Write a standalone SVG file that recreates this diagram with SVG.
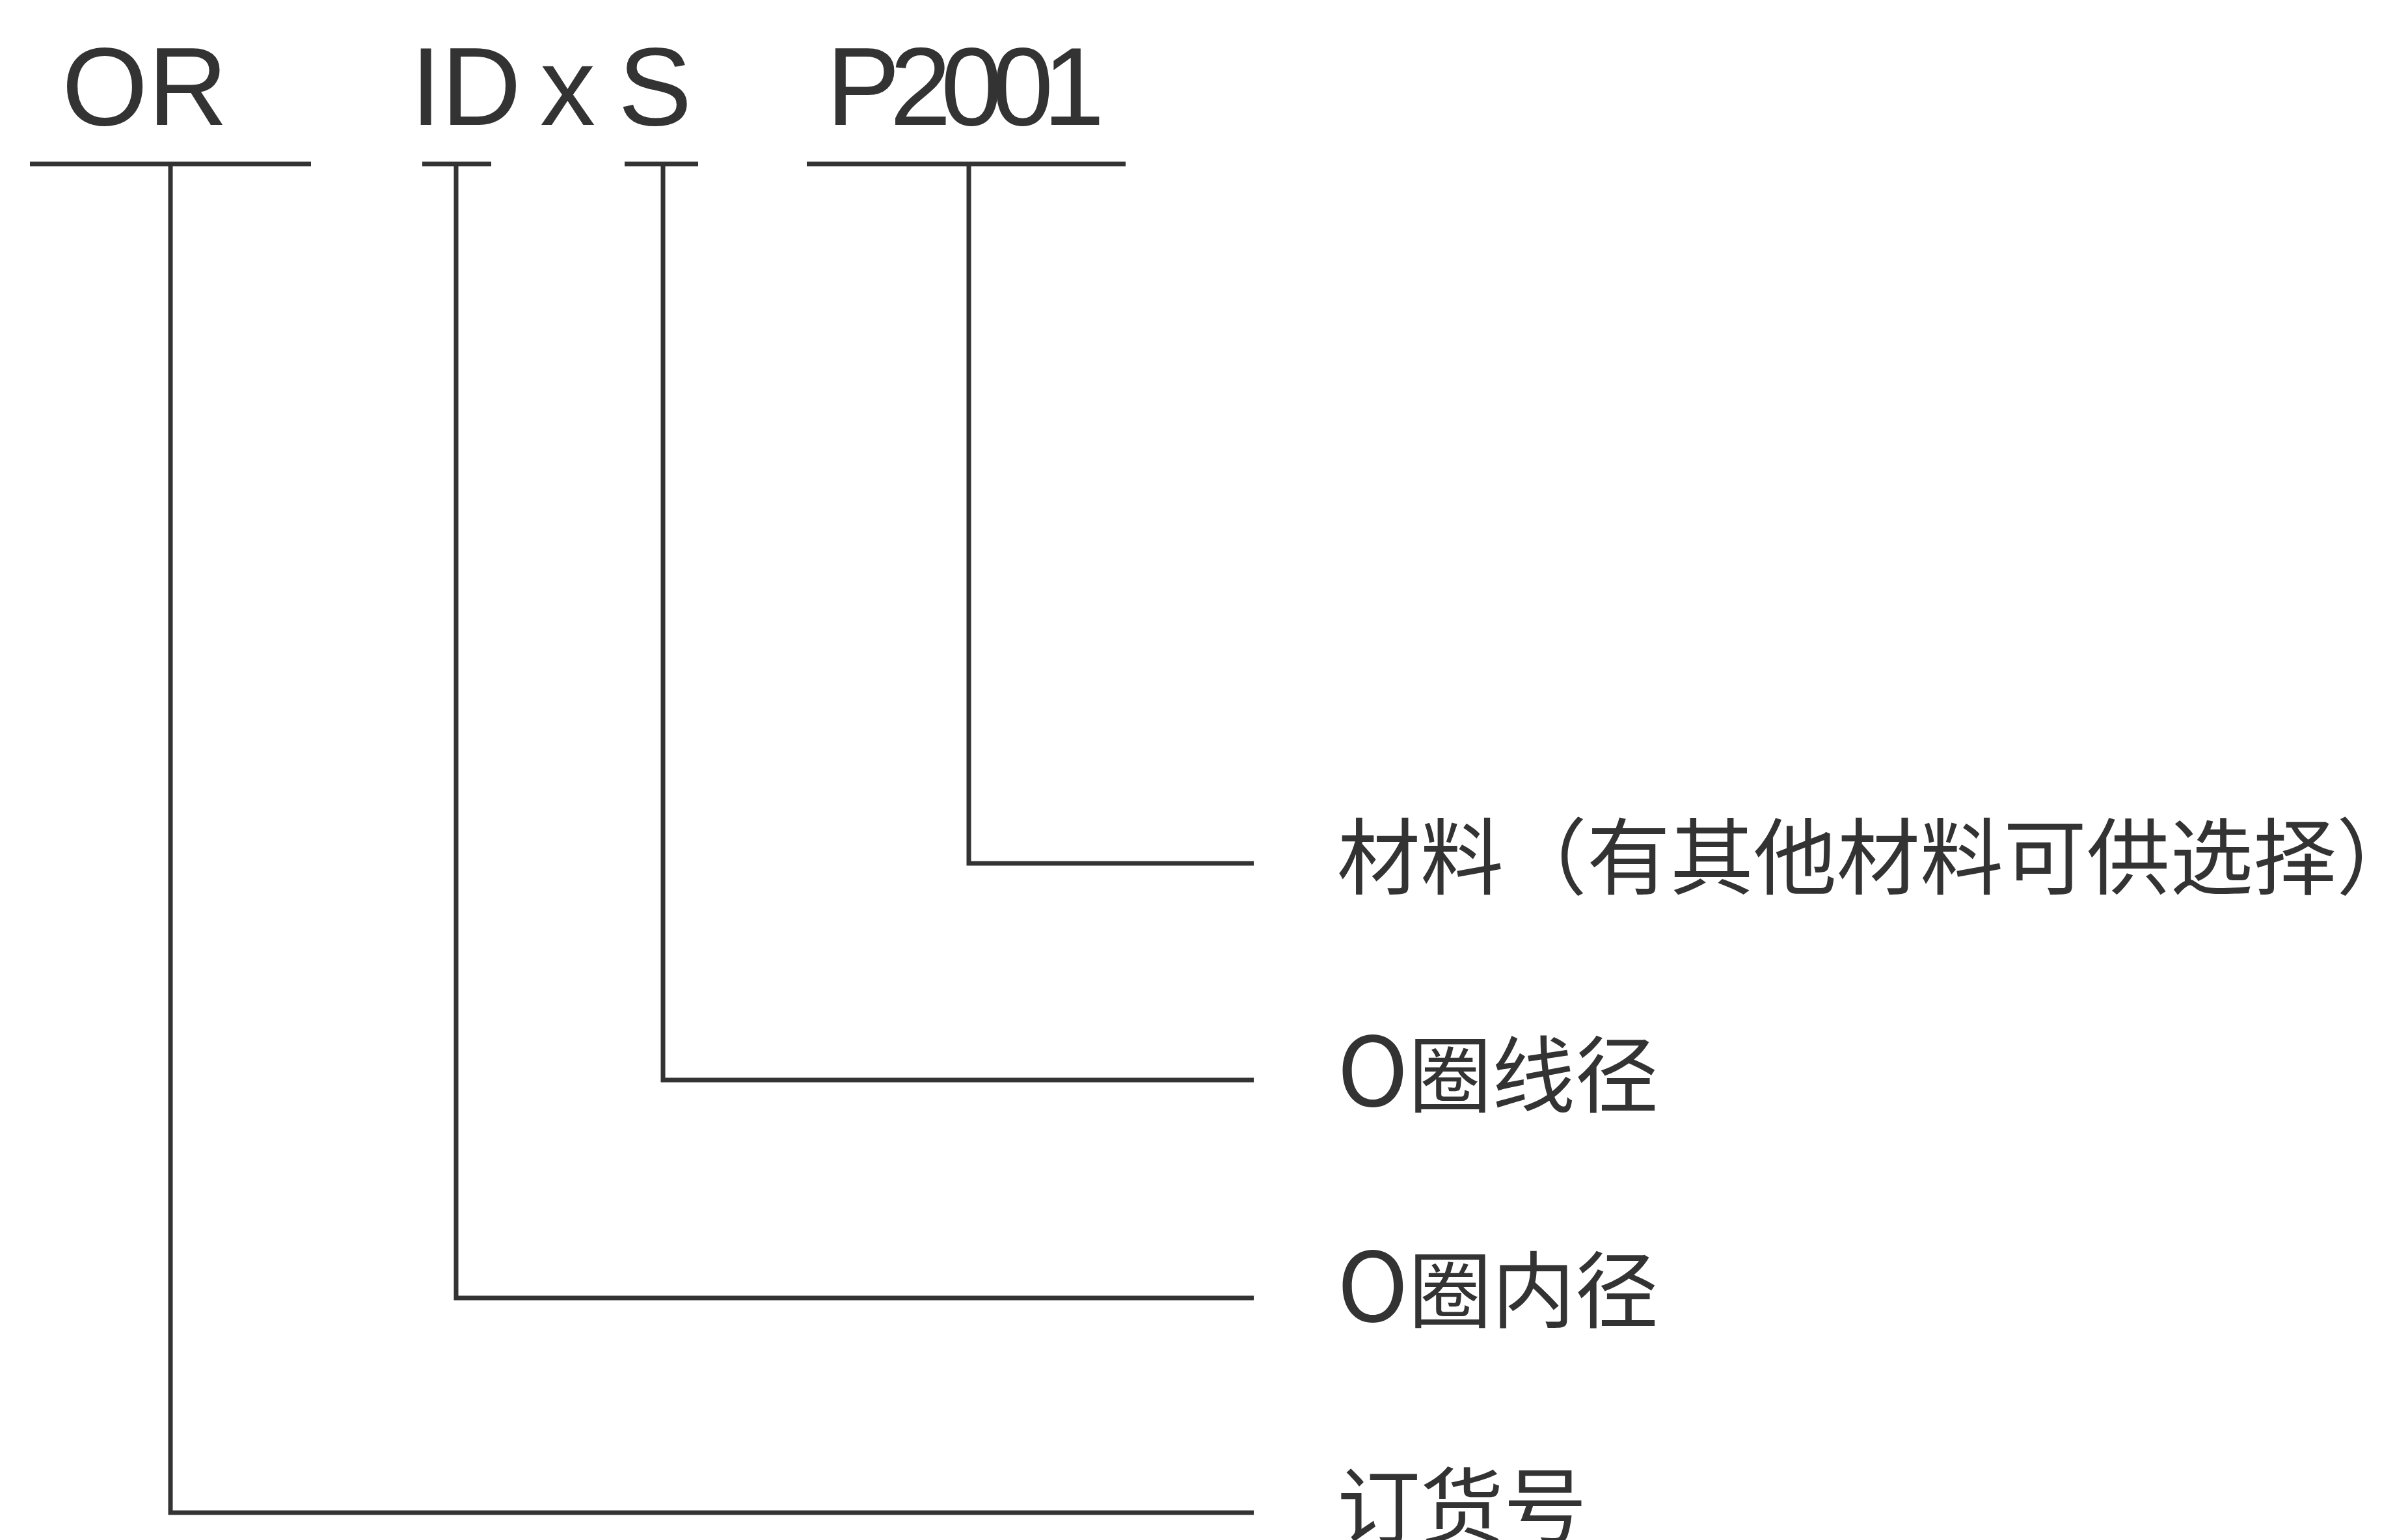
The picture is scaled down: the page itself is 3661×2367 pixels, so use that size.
<svg xmlns="http://www.w3.org/2000/svg" width="3661" height="2367" viewBox="0 0 3661 2367">
  <style>
    .code { font-family: "Liberation Sans", Arial, sans-serif; font-size: 170px; fill: #333333; }
    .label { font-family: "Noto Sans CJK SC", "Noto Sans", sans-serif; font-size: 128px; fill: #333333; text-spacing-trim: space-all; }
    .big-o { font-size: 148px; }
    .ln { stroke: #333333; stroke-width: 7; fill: none; stroke-linecap: butt; }
  </style>
  <rect width="3661" height="2367" fill="#ffffff"/>

  <g id="code-or">
    <text class="code" x="95" y="192">OR</text>
    <line class="ln" x1="46" y1="252" x2="478" y2="252"/>
  </g>
  <g id="code-idxs">
    <text class="code" y="192"><tspan x="631">ID</tspan> <tspan x="830">x</tspan> <tspan x="950">S</tspan></text>
    <line class="ln" x1="649" y1="252" x2="755" y2="252"/>
    <line class="ln" x1="960" y1="252" x2="1073" y2="252"/>
  </g>
  <g id="code-p2001">
    <text class="code" x="1270" y="192" letter-spacing="-16">P2001</text>
    <line class="ln" x1="1240" y1="252" x2="1730" y2="252"/>
  </g>

  <g id="label-material">
    <text class="label" x="2055" y="1365">材料（有其他材料可供选择）</text>
  </g>
  <g id="label-cross-section">
    <text class="label" x="2055" y="1700"><tspan class="big-o">O</tspan>圈线径</text>
  </g>
  <g id="label-inner-diameter">
    <text class="label" x="2055" y="2031"><tspan class="big-o">O</tspan>圈内径</text>
  </g>
  <g id="label-order-no">
    <text class="label" x="2055" y="2363">订货号</text>
  </g>

  <g id="connectors">
    <polyline class="ln" points="1489,252 1489,1327 1927,1327"/>
    <polyline class="ln" points="1019,252 1019,1660 1927,1660"/>
    <polyline class="ln" points="701,252 701,1995 1927,1995"/>
    <polyline class="ln" points="262,252 262,2325 1927,2325"/>
  </g>
</svg>
